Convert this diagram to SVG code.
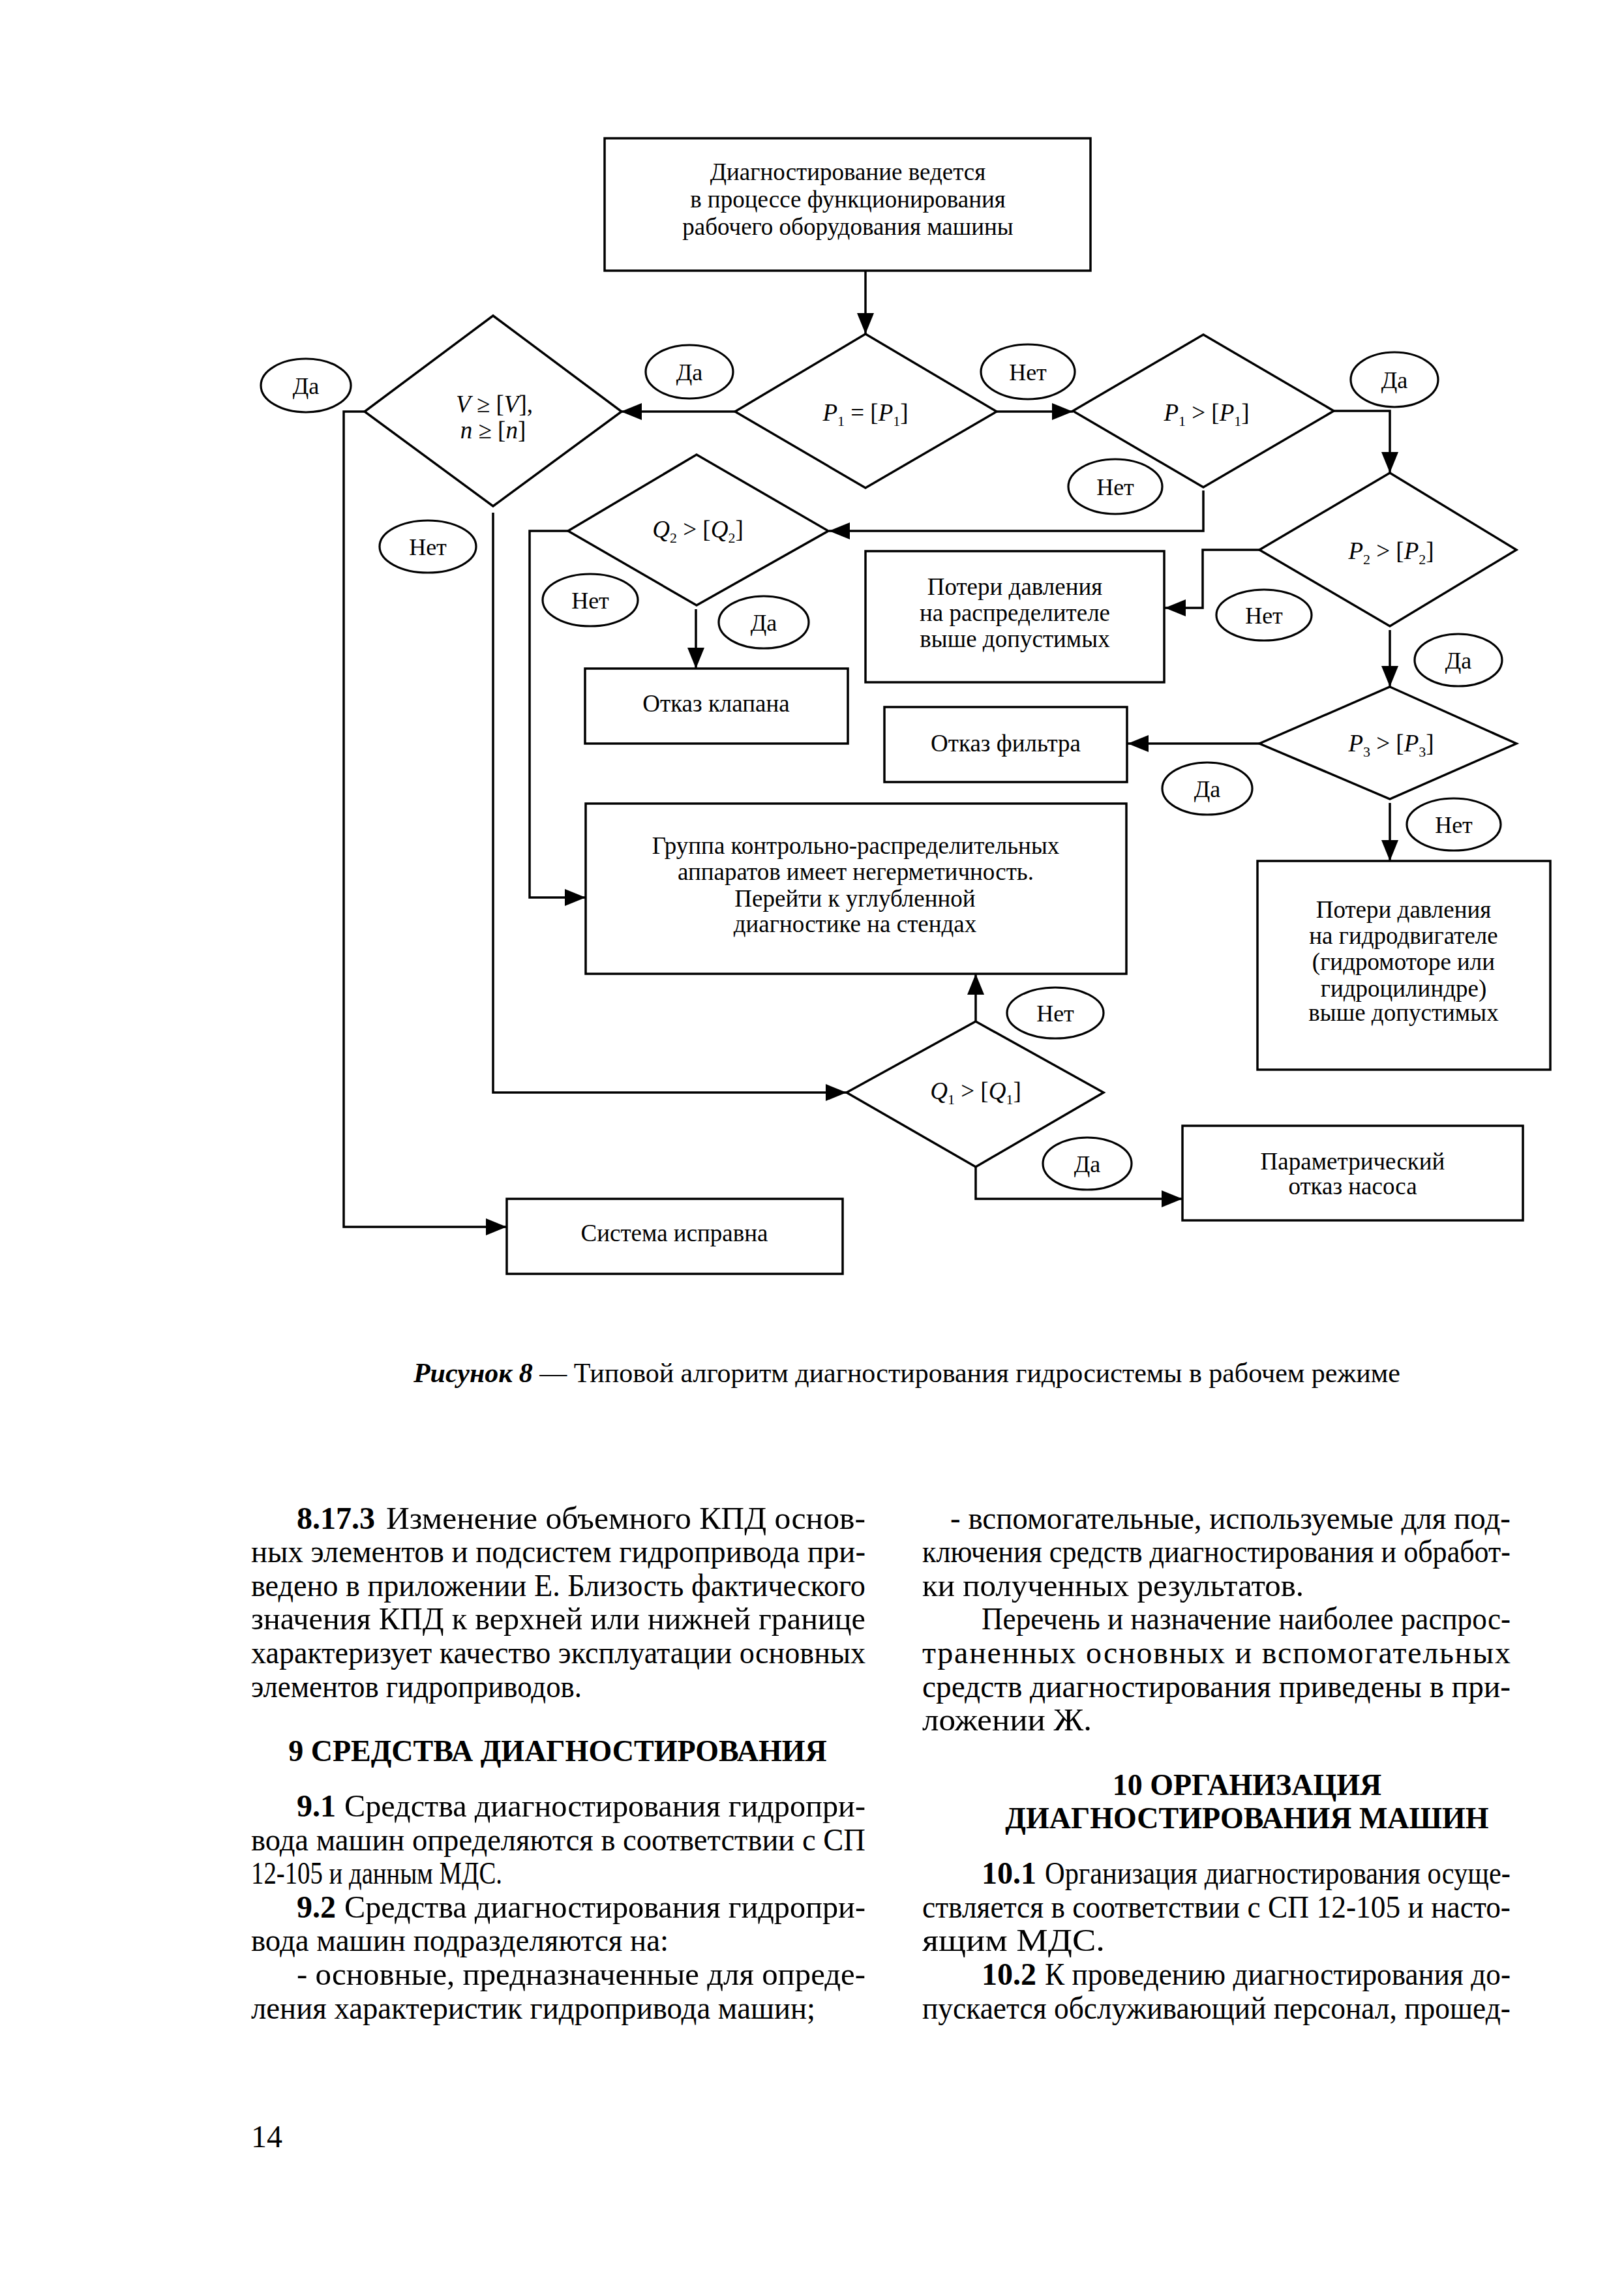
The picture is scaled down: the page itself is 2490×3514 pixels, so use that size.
<svg xmlns="http://www.w3.org/2000/svg" width="2490" height="3514" viewBox="0 0 2490 3514">
<style>
  .bg { fill: #ffffff; }
  .box { fill: none; stroke: #000; stroke-width: 3.5; }
  .dia { fill: none; stroke: #000; stroke-width: 3.5; stroke-linejoin: miter; }
  .lab { fill: none; stroke: #000; stroke-width: 3.2; }
  .con { fill: none; stroke: #000; stroke-width: 3.5; }
  .t { font-family: "Liberation Serif", "Times New Roman", serif; font-size: 37px; fill: #000; text-anchor: middle; }
  .m { font-family: "Liberation Serif", "Times New Roman", serif; font-size: 36px; fill: #000; text-anchor: middle; }
  .sub { font-style: normal; font-size: 22px; }
  .i { font-style: italic; }
  .body { font-family: "Liberation Serif", "Times New Roman", serif; font-size: 48px; fill: #000; }
  .b { font-weight: bold; }
  .h { font-family: "Liberation Serif", "Times New Roman", serif; font-size: 46px; font-weight: bold; fill: #000; text-anchor: middle; }
  .cap { font-family: "Liberation Serif", "Times New Roman", serif; font-size: 42px; fill: #000; }
</style>
<defs>
  <marker id="arr" markerUnits="userSpaceOnUse" markerWidth="34" markerHeight="26" refX="32" refY="13" orient="auto">
    <path d="M0,0 L32,13 L0,26 Z" fill="#000"/>
  </marker>
</defs>
<rect class="bg" x="0" y="0" width="2490" height="3514"/>

<!-- connectors -->
<g id="connectors">
  <path class="con" d="M1327,415 L1327,512" marker-end="url(#arr)"/>
  <path class="con" d="M1127,631 L952,631" marker-end="url(#arr)"/>
  <path class="con" d="M1528,631 L1645,631" marker-end="url(#arr)"/>
  <path class="con" d="M2045,630 L2131,630 L2131,725" marker-end="url(#arr)"/>
  <path class="con" d="M1845,752 L1845,814 L1271,814" marker-end="url(#arr)"/>
  <path class="con" d="M1931,843 L1844,843 L1844,932 L1786,932" marker-end="url(#arr)"/>
  <path class="con" d="M2131,966 L2131,1053" marker-end="url(#arr)"/>
  <path class="con" d="M1931,1140 L1729,1140" marker-end="url(#arr)"/>
  <path class="con" d="M2131,1231 L2131,1320" marker-end="url(#arr)"/>
  <path class="con" d="M871,814 L812,814 L812,1376 L898,1376" marker-end="url(#arr)"/>
  <path class="con" d="M1067,934 L1067,1025" marker-end="url(#arr)"/>
  <path class="con" d="M756,786 L756,1675 L1298,1675" marker-end="url(#arr)"/>
  <path class="con" d="M559,631 L527,631 L527,1881 L777,1881" marker-end="url(#arr)"/>
  <path class="con" d="M1496,1566 L1496,1493" marker-end="url(#arr)"/>
  <path class="con" d="M1496,1789 L1496,1838 L1813,1838" marker-end="url(#arr)"/>
</g>

<!-- nodes -->
<g id="n-start">
  <rect class="box" x="927" y="212" width="745" height="203"/>
  <text class="t" x="1300" y="276">Диагностирование ведется</text>
  <text class="t" x="1300" y="318">в процессе функционирования</text>
  <text class="t" x="1300" y="360">рабочего оборудования машины</text>
</g>

<g id="d-p1eq">
  <polygon class="dia" points="1327,512 1528,631 1327,748 1127,631"/>
  <text class="t" x="1327" y="645"><tspan class="i">P</tspan><tspan class="sub" dy="8">1</tspan><tspan dy="-8"> = [</tspan><tspan class="i">P</tspan><tspan class="sub" dy="8">1</tspan><tspan dy="-8">]</tspan></text>
</g>

<g id="d-vn">
  <polygon class="dia" points="756,484 953,631 756,776 559,631"/>
  <text class="t" x="758" y="632"><tspan class="i">V</tspan> ≥ [<tspan class="i">V</tspan>],</text>
  <text class="t" x="756" y="672"><tspan class="i">n</tspan> ≥ [<tspan class="i">n</tspan>]</text>
</g>

<g id="d-p1gt">
  <polygon class="dia" points="1845,513 2045,630 1845,747 1645,630"/>
  <text class="t" x="1850" y="645"><tspan class="i">P</tspan><tspan class="sub" dy="8">1</tspan><tspan dy="-8"> &gt; [</tspan><tspan class="i">P</tspan><tspan class="sub" dy="8">1</tspan><tspan dy="-8">]</tspan></text>
</g>

<g id="d-q2">
  <polygon class="dia" points="1068,697 1270,814 1068,928 871,814"/>
  <text class="t" x="1070" y="824"><tspan class="i">Q</tspan><tspan class="sub" dy="8">2</tspan><tspan dy="-8"> &gt; [</tspan><tspan class="i">Q</tspan><tspan class="sub" dy="8">2</tspan><tspan dy="-8">]</tspan></text>
</g>

<g id="d-p2">
  <polygon class="dia" points="2131,725 2325,843 2131,960 1931,843"/>
  <text class="t" x="2133" y="857"><tspan class="i">P</tspan><tspan class="sub" dy="8">2</tspan><tspan dy="-8"> &gt; [</tspan><tspan class="i">P</tspan><tspan class="sub" dy="8">2</tspan><tspan dy="-8">]</tspan></text>
</g>

<g id="d-p3">
  <polygon class="dia" points="2131,1053 2325,1140 2131,1225 1931,1140"/>
  <text class="t" x="2133" y="1152"><tspan class="i">P</tspan><tspan class="sub" dy="8">3</tspan><tspan dy="-8"> &gt; [</tspan><tspan class="i">P</tspan><tspan class="sub" dy="8">3</tspan><tspan dy="-8">]</tspan></text>
</g>

<g id="d-q1">
  <polygon class="dia" points="1496,1566 1692,1675 1496,1789 1298,1675"/>
  <text class="t" x="1496" y="1685"><tspan class="i">Q</tspan><tspan class="sub" dy="8">1</tspan><tspan dy="-8"> &gt; [</tspan><tspan class="i">Q</tspan><tspan class="sub" dy="8">1</tspan><tspan dy="-8">]</tspan></text>
</g>

<g id="n-dist">
  <rect class="box" x="1327" y="845" width="458" height="201"/>
  <text class="t" x="1556" y="912">Потери давления</text>
  <text class="t" x="1556" y="952">на распределителе</text>
  <text class="t" x="1556" y="992">выше допустимых</text>
</g>

<g id="n-valve">
  <rect class="box" x="897" y="1025" width="403" height="115"/>
  <text class="t" x="1098" y="1091">Отказ клапана</text>
</g>

<g id="n-filter">
  <rect class="box" x="1356" y="1084" width="372" height="115"/>
  <text class="t" x="1542" y="1152">Отказ фильтра</text>
</g>

<g id="n-group">
  <rect class="box" x="898" y="1232" width="829" height="261"/>
  <text class="t" x="1312" y="1309">Группа контрольно-распределительных</text>
  <text class="t" x="1312" y="1349">аппаратов имеет негерметичность.</text>
  <text class="t" x="1311" y="1390">Перейти к углубленной</text>
  <text class="t" x="1311" y="1429">диагностике на стендах</text>
</g>

<g id="n-motor">
  <rect class="box" x="1928" y="1320" width="449" height="320"/>
  <text class="t" x="2152" y="1407">Потери давления</text>
  <text class="t" x="2152" y="1447">на гидродвигателе</text>
  <text class="t" x="2152" y="1487">(гидромоторе или</text>
  <text class="t" x="2152" y="1528">гидроцилиндре)</text>
  <text class="t" x="2152" y="1565">выше допустимых</text>
</g>

<g id="n-pump">
  <rect class="box" x="1813" y="1726" width="522" height="145"/>
  <text class="t" x="2074" y="1793">Параметрический</text>
  <text class="t" x="2074" y="1831">отказ насоса</text>
</g>

<g id="n-ok">
  <rect class="box" x="777" y="1838" width="515" height="115"/>
  <text class="t" x="1034" y="1903">Система исправна</text>
</g>

<!-- yes/no labels -->
<g id="labels">
  <g id="l1"><ellipse class="lab" cx="469" cy="591" rx="69" ry="41"/><text class="m" x="469" y="604">Да</text></g>
  <g id="l2"><ellipse class="lab" cx="1057" cy="570" rx="67" ry="41"/><text class="m" x="1057" y="583">Да</text></g>
  <g id="l3"><ellipse class="lab" cx="1576" cy="570" rx="72" ry="42"/><text class="m" x="1576" y="583">Нет</text></g>
  <g id="l4"><ellipse class="lab" cx="2138" cy="582" rx="67" ry="42"/><text class="m" x="2138" y="595">Да</text></g>
  <g id="l5"><ellipse class="lab" cx="1710" cy="746" rx="72" ry="42"/><text class="m" x="1710" y="759">Нет</text></g>
  <g id="l6"><ellipse class="lab" cx="656" cy="838" rx="74" ry="40"/><text class="m" x="656" y="851">Нет</text></g>
  <g id="l7"><ellipse class="lab" cx="905" cy="920" rx="73" ry="40"/><text class="m" x="905" y="933">Нет</text></g>
  <g id="l8"><ellipse class="lab" cx="1171" cy="954" rx="69" ry="40"/><text class="m" x="1171" y="967">Да</text></g>
  <g id="l9"><ellipse class="lab" cx="1938" cy="943" rx="73" ry="39"/><text class="m" x="1938" y="956">Нет</text></g>
  <g id="l10"><ellipse class="lab" cx="2236" cy="1012" rx="67" ry="40"/><text class="m" x="2236" y="1025">Да</text></g>
  <g id="l11"><ellipse class="lab" cx="1851" cy="1209" rx="69" ry="40"/><text class="m" x="1851" y="1222">Да</text></g>
  <g id="l12"><ellipse class="lab" cx="2229" cy="1264" rx="72" ry="40"/><text class="m" x="2229" y="1277">Нет</text></g>
  <g id="l13"><ellipse class="lab" cx="1618" cy="1553" rx="74" ry="39"/><text class="m" x="1618" y="1566">Нет</text></g>
  <g id="l14"><ellipse class="lab" cx="1667" cy="1784" rx="68" ry="40"/><text class="m" x="1667" y="1797">Да</text></g>
</g>

<!-- caption -->
<text class="cap" x="634" y="2119" textLength="1513"><tspan font-weight="bold" font-style="italic">Рисунок 8</tspan> — Типовой алгоритм диагностирования гидросистемы в рабочем режиме</text>

<!-- left column -->
<g id="left-column">
  <text class="body b" x="455" y="2344">8.17.3</text>
  <text class="body" x="592" y="2344" textLength="735" lengthAdjust="spacingAndGlyphs">Изменение объемного КПД основ-</text>
  <text class="body" x="385" y="2395" textLength="942" lengthAdjust="spacingAndGlyphs">ных элементов и подсистем гидропривода при-</text>
  <text class="body" x="385" y="2447" textLength="942" lengthAdjust="spacingAndGlyphs">ведено в приложении Е. Близость фактического</text>
  <text class="body" x="385" y="2498" textLength="942" lengthAdjust="spacingAndGlyphs">значения КПД к верхней или нижней границе</text>
  <text class="body" x="385" y="2550" textLength="942" lengthAdjust="spacingAndGlyphs">характеризует качество эксплуатации основных</text>
  <text class="body" x="385" y="2602" textLength="507" lengthAdjust="spacingAndGlyphs">элементов гидроприводов.</text>
  <text class="h" x="855" y="2700">9 СРЕДСТВА ДИАГНОСТИРОВАНИЯ</text>
  <text class="body b" x="455" y="2785">9.1</text>
  <text class="body" x="528" y="2785" textLength="799" lengthAdjust="spacingAndGlyphs">Средства диагностирования гидропри-</text>
  <text class="body" x="385" y="2837" textLength="942" lengthAdjust="spacingAndGlyphs">вода машин определяются в соответствии с СП</text>
  <text class="body" x="385" y="2888" textLength="385" lengthAdjust="spacingAndGlyphs">12-105 и данным МДС.</text>
  <text class="body b" x="455" y="2940">9.2</text>
  <text class="body" x="528" y="2940" textLength="799" lengthAdjust="spacingAndGlyphs">Средства диагностирования гидропри-</text>
  <text class="body" x="385" y="2991" textLength="640" lengthAdjust="spacingAndGlyphs">вода машин подразделяются на:</text>
  <text class="body" x="455" y="3043" textLength="872" lengthAdjust="spacingAndGlyphs">- основные, предназначенные для опреде-</text>
  <text class="body" x="385" y="3095" textLength="865" lengthAdjust="spacingAndGlyphs">ления характеристик гидропривода машин;</text>
  <text class="body" x="385" y="3292">14</text>
</g>

<!-- right column -->
<g id="right-column">
  <text class="body" x="1457" y="2344" textLength="859" lengthAdjust="spacingAndGlyphs">- вспомогательные, используемые для под-</text>
  <text class="body" x="1414" y="2395" textLength="902" lengthAdjust="spacingAndGlyphs">ключения средств диагностирования и обработ-</text>
  <text class="body" x="1414" y="2447" textLength="585" lengthAdjust="spacingAndGlyphs">ки полученных результатов.</text>
  <text class="body" x="1505" y="2498" textLength="811" lengthAdjust="spacingAndGlyphs">Перечень и назначение наиболее распрос-</text>
  <text class="body" x="1414" y="2550" textLength="902" lengthAdjust="spacing">траненных основных и вспомогательных</text>
  <text class="body" x="1414" y="2602" textLength="902" lengthAdjust="spacingAndGlyphs">средств диагностирования приведены в при-</text>
  <text class="body" x="1414" y="2653" textLength="260" lengthAdjust="spacingAndGlyphs">ложении Ж.</text>
  <text class="h" x="1912" y="2752">10 ОРГАНИЗАЦИЯ</text>
  <text class="h" x="1912" y="2803">ДИАГНОСТИРОВАНИЯ МАШИН</text>
  <text class="body b" x="1505" y="2888">10.1</text>
  <text class="body" x="1602" y="2888" textLength="714" lengthAdjust="spacingAndGlyphs">Организация диагностирования осуще-</text>
  <text class="body" x="1414" y="2940" textLength="902" lengthAdjust="spacingAndGlyphs">ствляется в соответствии с СП 12-105 и насто-</text>
  <text class="body" x="1414" y="2991" textLength="280" lengthAdjust="spacingAndGlyphs">ящим МДС.</text>
  <text class="body b" x="1505" y="3043">10.2</text>
  <text class="body" x="1602" y="3043" textLength="714" lengthAdjust="spacingAndGlyphs">К проведению диагностирования до-</text>
  <text class="body" x="1414" y="3095" textLength="902" lengthAdjust="spacingAndGlyphs">пускается обслуживающий персонал, прошед-</text>
</g>
</svg>
